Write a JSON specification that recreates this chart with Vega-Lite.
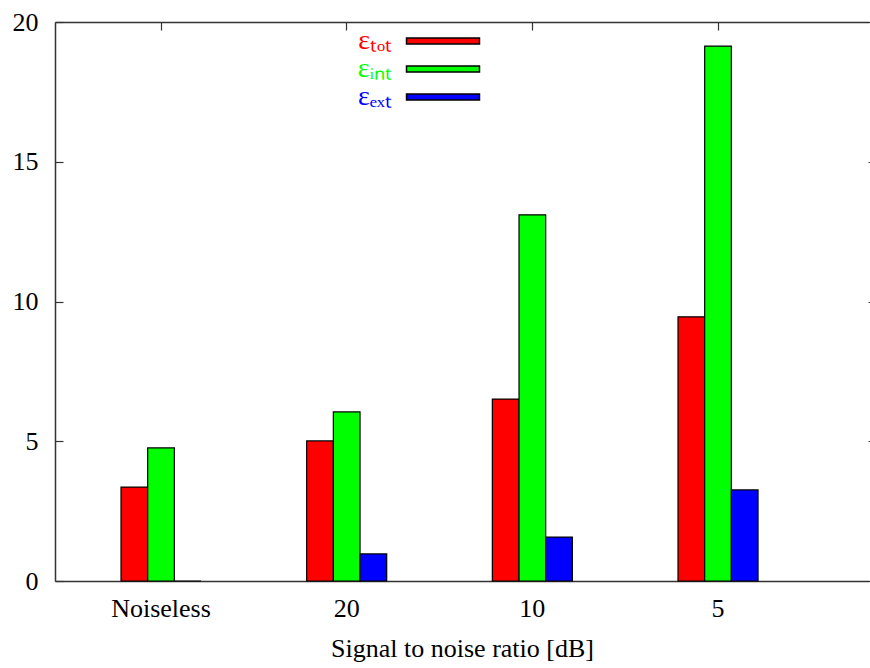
{
  "$schema": "https://vega.github.io/schema/vega-lite/v6.json",
  "width": 814,
  "height": 559,
  "autosize": "none",
  "padding": {"left": 55, "top": 22, "right": 1, "bottom": 87},
  "background": "white",
  "view": {"stroke": null},
  "config": {
    "font": "Liberation Serif",
    "axis": {
      "grid": false,
      "domainColor": "#333333",
      "domainWidth": 1.5,
      "tickColor": "#333333",
      "tickWidth": 1.2,
      "tickSize": -8,
      "labelFont": "Liberation Serif",
      "labelFontSize": 26,
      "labelColor": "black",
      "titleFont": "Liberation Serif",
      "titleFontSize": 26,
      "titleFontWeight": "normal",
      "titleColor": "black"
    }
  },
  "data": {
    "values": [
      {"snr": "Noiseless", "err": "tot", "value": 3.36},
      {"snr": "Noiseless", "err": "int", "value": 4.76},
      {"snr": "Noiseless", "err": "ext", "value": 0.0},
      {"snr": "20", "err": "tot", "value": 5.01},
      {"snr": "20", "err": "int", "value": 6.05},
      {"snr": "20", "err": "ext", "value": 0.97},
      {"snr": "10", "err": "tot", "value": 6.51},
      {"snr": "10", "err": "int", "value": 13.1},
      {"snr": "10", "err": "ext", "value": 1.57},
      {"snr": "5", "err": "tot", "value": 9.45},
      {"snr": "5", "err": "int", "value": 19.14},
      {"snr": "5", "err": "ext", "value": 3.26}
    ]
  },
  "layer": [
    {
      "mark": {"type": "bar", "stroke": "black", "strokeWidth": 1.2},
      "encoding": {
        "x": {
          "field": "snr",
          "type": "nominal",
          "sort": ["Noiseless", "20", "10", "5"],
          "scale": {"type": "band", "paddingInner": 0.569, "paddingOuter": 0.4766, "align": 0.373},
          "axis": {
            "orient": "bottom",
            "labelAngle": 0,
            "labelPadding": 22,
            "labelBaseline": "top",
            "title": "Signal to noise ratio [dB]",
            "titlePadding": 14
          }
        },
        "xOffset": {
          "field": "err",
          "type": "nominal",
          "sort": ["tot", "int", "ext"],
          "scale": {"paddingInner": 0, "paddingOuter": 0}
        },
        "y": {
          "field": "value",
          "type": "quantitative",
          "scale": {"domain": [0, 20], "nice": false, "zero": true},
          "axis": {
            "orient": "left",
            "values": [0, 5, 10, 15, 20],
            "labelPadding": 25,
            "title": null
          }
        },
        "color": {
          "field": "err",
          "type": "nominal",
          "sort": ["tot", "int", "ext"],
          "scale": {"domain": ["tot", "int", "ext"], "range": ["#ff0000", "#00ff00", "#0000ff"]},
          "legend": {
            "orient": "none",
            "legendX": 374,
            "legendY": 5,
            "title": null,
            "padding": 0,
            "symbolType": "M-5,-0.4H5V0.4H-5Z",
            "symbolSize": 213,
            "symbolStrokeColor": "black",
            "symbolStrokeWidth": 1.5,
            "symbolOpacity": 1,
            "rowPadding": 0,
            "labelFont": "Liberation Serif",
            "labelFontSize": 28,
            "labelAlign": "right",
            "labelBaseline": "middle",
            "labelOffset": -65,
            "labelExpr": "datum.value == 'tot' ? 'εₜₒₜ' : datum.value == 'int' ? 'εᵢₙₜ' : 'εₑₓₜ'",
            "encode": {
              "labels": {"update": {"fill": {"signal": "scale('color', datum.value)"}}}
            }
          }
        }
      }
    },
    {
      "mark": {"type": "bar", "opacity": 0},
      "encoding": {
        "x": {
          "field": "snr",
          "type": "nominal",
          "sort": ["Noiseless", "20", "10", "5"],
          "axis": {"orient": "top", "labels": false, "title": null}
        },
        "y": {
          "field": "value",
          "type": "quantitative",
          "axis": {
            "orient": "right",
            "values": [0, 5, 10, 15, 20],
            "labels": false,
            "domain": false,
            "offset": 7,
            "title": null
          }
        }
      }
    }
  ],
  "resolve": {"axis": {"x": "independent", "y": "independent"}}
}
